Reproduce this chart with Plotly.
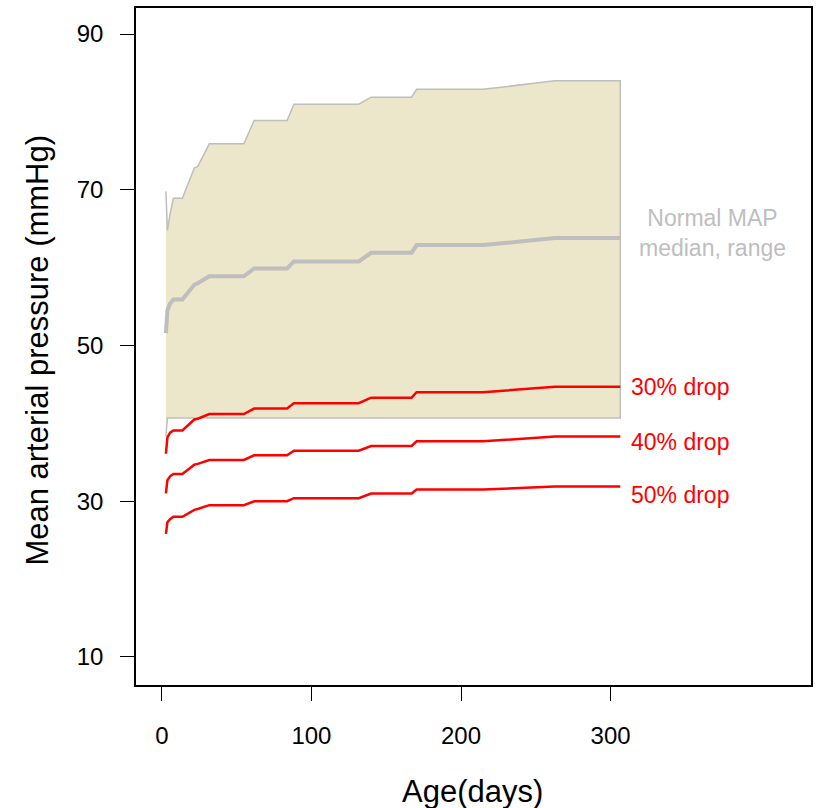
import plotly.graph_objects as go

# Age (days)
ages = [2.7, 3.7, 5.5, 7.7, 13.7, 21.7, 24.0, 31.7, 54.8, 61.7, 83.7, 88.3,
        131.6, 139.9, 167.0, 170.3, 214.7, 262.7, 306.5]
# Normal MAP range and median
upper = [69.8, 64.8, 66.9, 68.9, 68.9, 72.8, 73.0, 75.9, 75.9, 78.9, 78.9, 81.0,
         81.0, 81.9, 81.9, 82.9, 82.9, 84.0, 84.0]
lower = [38.3, 40.7, 40.7, 40.7, 40.7, 40.7, 40.7, 40.7, 40.7, 40.7, 40.7, 40.7,
         40.7, 40.7, 40.7, 40.7, 40.7, 40.7, 40.7]
median = [51.6, 54.5, 55.4, 55.9, 55.9, 57.8, 58.0, 58.9, 58.9, 59.9, 59.9, 60.8,
          60.8, 61.9, 61.9, 62.9, 62.9, 63.8, 63.8]
drop30 = [36.1, 38.2, 38.8, 39.1, 39.1, 40.5, 40.6, 41.2, 41.2, 41.9, 41.9, 42.6,
          42.6, 43.3, 43.3, 44.0, 44.0, 44.7, 44.7]
drop40 = [31.0, 32.7, 33.2, 33.5, 33.5, 34.7, 34.8, 35.3, 35.3, 35.9, 35.9, 36.5,
          36.5, 37.1, 37.1, 37.7, 37.7, 38.3, 38.3]
drop50 = [25.8, 27.3, 27.7, 28.0, 28.0, 28.9, 29.0, 29.5, 29.5, 30.0, 30.0, 30.4,
          30.4, 31.0, 31.0, 31.5, 31.5, 31.9, 31.9]

x_ticks = [0, 100, 200, 300]
y_ticks = [10, 30, 50, 70, 90]
drop_labels = ["30% drop", "40% drop", "50% drop"]
label_yshift = [0, -5, -9]

FONT = "Liberation Sans, Arial, sans-serif"
GREY = "#BEBEBE"
RED = "#FF0000"

fig = go.Figure()

fig.add_trace(go.Scatter(
    x=ages + ages[::-1],
    y=upper + lower[::-1],
    fill="toself",
    fillcolor="#ECE6CA",
    line=dict(color=GREY, width=1.5),
    mode="lines",
    hoverinfo="skip",
    showlegend=False,
))
fig.add_trace(go.Scatter(x=ages, y=median, mode="lines",
                         line=dict(color=GREY, width=4), showlegend=False))
for series in (drop30, drop40, drop50):
    fig.add_trace(go.Scatter(x=ages, y=series, mode="lines",
                             line=dict(color=RED, width=2.5), showlegend=False))

annotations = []
for label, series, ys in zip(drop_labels, (drop30, drop40, drop50), label_yshift):
    annotations.append(dict(
        x=ages[-1], y=series[-1], xref="x", yref="y", text=label,
        xanchor="left", yanchor="middle", xshift=9, yshift=ys, showarrow=False,
        font=dict(family=FONT, size=23, color=RED)))
annotations.append(dict(
    x=ages[-1], y=median[-1], xref="x", yref="y",
    text="Normal MAP<br>median, range", align="center",
    xanchor="center", yanchor="middle", xshift=92, yshift=5, showarrow=False,
    font=dict(family=FONT, size=23, color=GREY)))
annotations.append(dict(
    x=-0.146, y=0.4946, xref="paper", yref="paper",
    text="Mean arterial pressure (mmHg)", textangle=-90,
    xanchor="center", yanchor="middle", showarrow=False,
    font=dict(family=FONT, size=31, color="black")))
annotations.append(dict(
    x=0.499, y=-0.158, xref="paper", yref="paper",
    text="Age(days)", xanchor="center", yanchor="middle", showarrow=False,
    font=dict(family=FONT, size=31, color="black")))

fig.update_layout(
    width=819, height=808,
    margin=dict(l=136, r=6, t=8, b=123),
    paper_bgcolor="white", plot_bgcolor="white",
    font=dict(family=FONT, size=23, color="black"),
    annotations=annotations,
    showlegend=False,
)
fig.update_xaxes(
    range=[-17.3, 434], tickvals=x_ticks, ticktext=[str(v) for v in x_ticks],
    showgrid=False, zeroline=False,
    showline=True, mirror=True, linecolor="black", linewidth=1.5,
    ticks="outside", ticklen=14, tickwidth=1.2, tickcolor="black",
    ticklabelstandoff=14,
    tickfont=dict(family=FONT, size=24, color="black"),
)
fig.update_yaxes(
    range=[6.4, 93.35], tickvals=y_ticks, ticktext=[str(v) for v in y_ticks],
    showgrid=False, zeroline=False,
    showline=True, mirror=True, linecolor="black", linewidth=1.5,
    ticks="outside", ticklen=14, tickwidth=1.2, tickcolor="black",
    ticklabelstandoff=12,
    tickfont=dict(family=FONT, size=24, color="black"),
)

fig.write_html("out.html")
